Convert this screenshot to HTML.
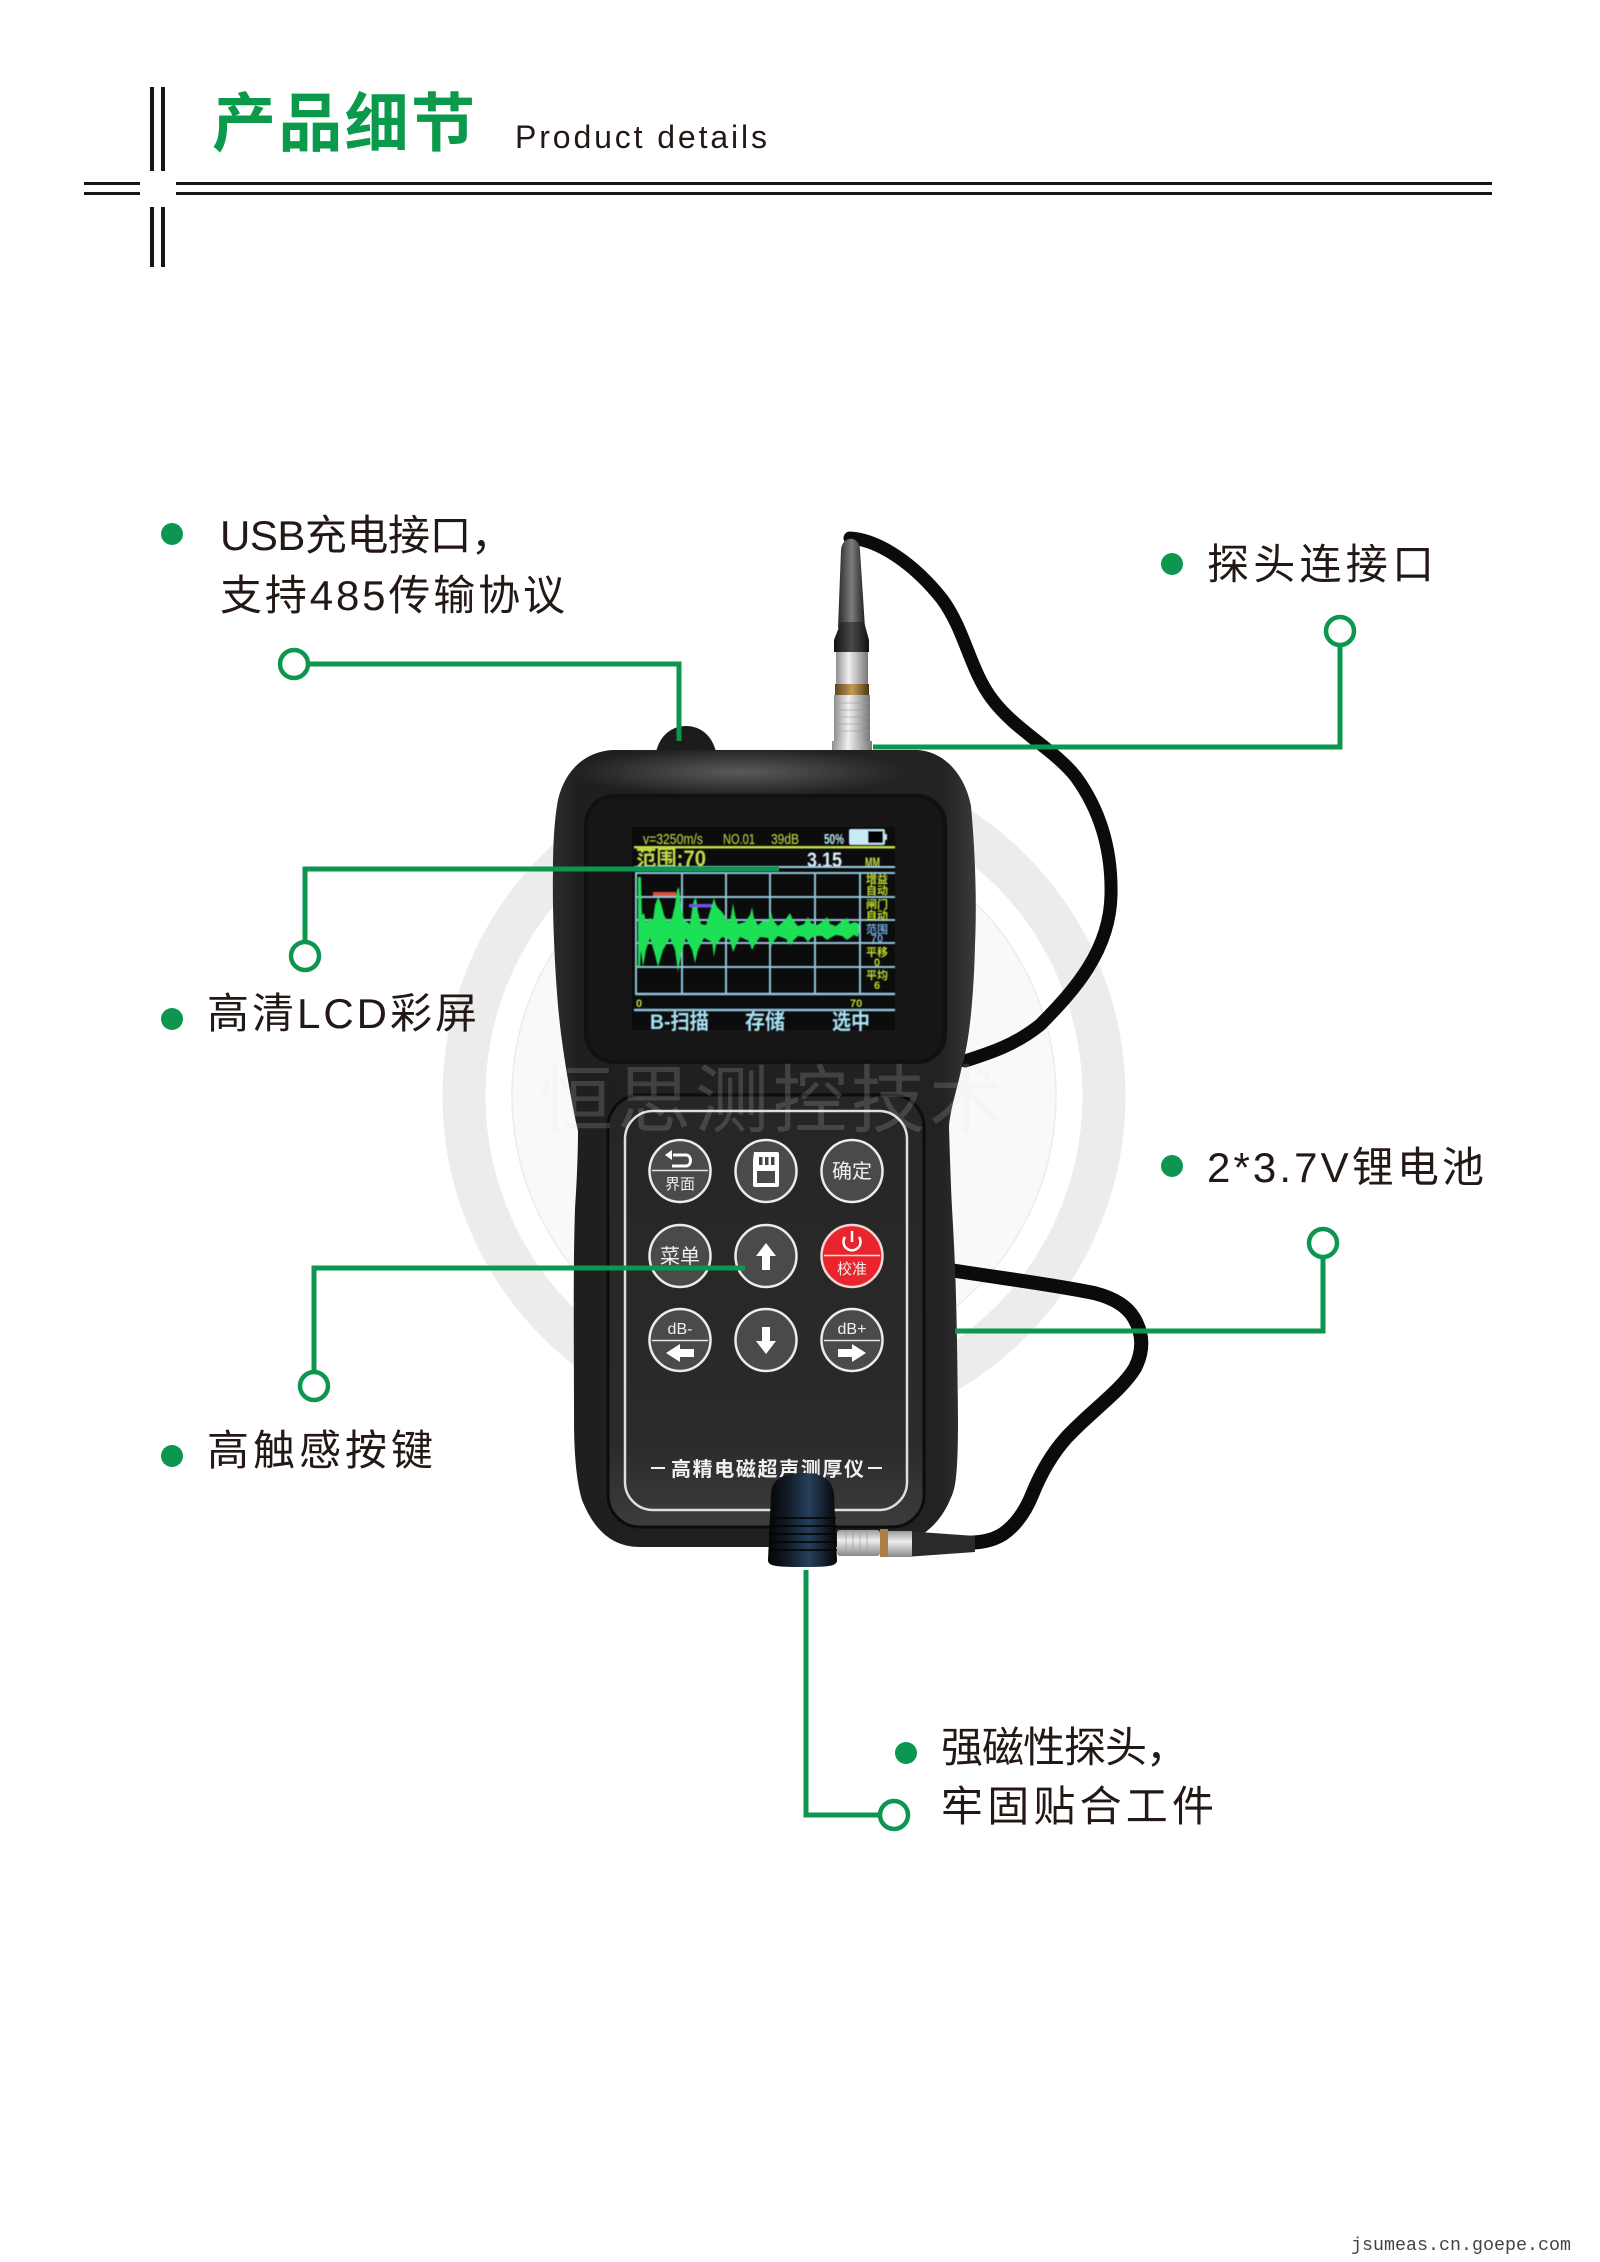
<!DOCTYPE html>
<html><head><meta charset="utf-8"><style>html,body{margin:0;padding:0;background:#fff}svg{display:block}
text{font-family:"Liberation Sans","Noto Sans CJK SC",sans-serif}</style></head><body>
<svg width="1600" height="2262" viewBox="0 0 1600 2262" xmlns="http://www.w3.org/2000/svg">
<defs>
<linearGradient id="boot" x1="0" x2="1" y1="0" y2="0"><stop offset="0" stop-color="#2a2a2a"/><stop offset=".5" stop-color="#7c7c7c"/><stop offset="1" stop-color="#222"/></linearGradient>
<linearGradient id="collar" x1="0" x2="1" y1="0" y2="0"><stop offset="0" stop-color="#111"/><stop offset=".5" stop-color="#4a4a4a"/><stop offset="1" stop-color="#111"/></linearGradient>
<linearGradient id="silver" x1="0" x2="1" y1="0" y2="0"><stop offset="0" stop-color="#8f8f8f"/><stop offset=".4" stop-color="#f0f0f0"/><stop offset="1" stop-color="#777"/></linearGradient>
<linearGradient id="silverV" x1="0" x2="0" y1="0" y2="1"><stop offset="0" stop-color="#999"/><stop offset=".4" stop-color="#eee"/><stop offset="1" stop-color="#888"/></linearGradient>
<linearGradient id="gold" x1="0" x2="1" y1="0" y2="0"><stop offset="0" stop-color="#5c4320"/><stop offset=".5" stop-color="#c49a58"/><stop offset="1" stop-color="#4a3518"/></linearGradient>
<linearGradient id="probe" x1="0" x2="1" y1="0" y2="0"><stop offset="0" stop-color="#050505"/><stop offset=".25" stop-color="#101820"/><stop offset=".6" stop-color="#26405e"/><stop offset=".85" stop-color="#121a24"/><stop offset="1" stop-color="#050505"/></linearGradient>
<linearGradient id="panel" x1="0" x2="0" y1="0" y2="1"><stop offset="0" stop-color="#262626"/><stop offset=".8" stop-color="#2a2a2a"/><stop offset="1" stop-color="#3c3c3c"/></linearGradient>
<linearGradient id="bodyG" x1="0" x2="1" y1="0" y2="0"><stop offset="0" stop-color="#2c2c2c"/><stop offset=".06" stop-color="#1f1f1f"/><stop offset=".92" stop-color="#222"/><stop offset="1" stop-color="#3a3a3a"/></linearGradient>
<radialGradient id="hl" cx=".5" cy=".5" r=".5"><stop offset="0" stop-color="#5a5a5a"/><stop offset="1" stop-color="#5a5a5a" stop-opacity="0"/></radialGradient>
<filter id="soft" x="-2%" y="-2%" width="104%" height="104%"><feGaussianBlur stdDeviation=".45"/></filter>
</defs>

<!-- header -->
<g fill="#1a1512">
<rect x="150" y="87" width="4" height="84"/><rect x="161" y="87" width="4" height="84"/>
<rect x="150" y="207" width="4" height="60"/><rect x="161" y="207" width="4" height="60"/>
<rect x="84" y="182" width="56" height="3"/><rect x="84" y="192" width="56" height="3"/>
<rect x="176" y="182" width="1316" height="3"/><rect x="176" y="192" width="1316" height="3"/>
</g>
<text x="212" y="146" font-size="64" font-weight="700" fill="#0b9a4c" textLength="263" lengthAdjust="spacing">产品细节</text>
<text x="515" y="148" font-size="32" fill="#231815" textLength="252" lengthAdjust="spacing">Product details</text>

<!-- watermark -->
<circle cx="784" cy="1096" r="320" fill="none" stroke="#ececec" stroke-width="43"/>
<circle cx="784" cy="1096" r="272" fill="#f9f9f9" stroke="#ececec" stroke-width="1.5"/>
<text x="539" y="1126" font-size="74" fill="#f4f4f4" letter-spacing="4">恒思测控技术</text>

<!-- upper cable -->
<path d="M850 538C880 540 915 565 942 599C965 630 970 670 992 699C1015 730 1055 750 1076 777C1100 810 1112 850 1111 895C1110 950 1075 990 1040 1025C1015 1045 990 1053 965 1061" fill="none" stroke="#0b0b0b" stroke-width="13" stroke-linecap="round"/>
<!-- lower cable -->
<path d="M950 1270C1000 1278 1050 1284 1094 1293C1114 1298 1127 1306 1134 1318C1144 1335 1143 1352 1135 1368C1122 1390 1090 1412 1066 1438C1050 1456 1040 1475 1032 1495C1025 1512 1016 1525 1003 1534C992 1541 980 1543 960 1543L925 1543" fill="none" stroke="#0b0b0b" stroke-width="14"/>

<!-- top connector -->
<path d="M841 550C842 535 860 535 860 550L865 628L838 628Z" fill="url(#boot)"/>
<path d="M841 622L864 622L869 640L869 652L834 652L834 640Z" fill="url(#collar)"/>
<rect x="836" y="652" width="32" height="32" fill="url(#silver)"/>
<rect x="835" y="684" width="34" height="11" fill="url(#gold)"/>
<rect x="834" y="695" width="36" height="46" fill="url(#silver)"/>
<g stroke="#9a9a9a" stroke-width="1" opacity=".6"><path d="M834 703H870M834 710H870M834 717H870M834 724H870M834 731H870"/></g>
<rect x="832" y="741" width="40" height="10" fill="url(#silver)"/>

<!-- bump -->
<path d="M656 752C660 735 672 726 686 726C700 726 712 735 716 752Z" fill="#1c1c1c"/>

<!-- body -->
<path d="M612 750L918 750C945 752 965 775 971 806C975 850 977 900 975 945C974 990 970 1040 962 1066C957 1090 950 1110 949 1127C950 1160 951 1190 952 1208C955 1260 957 1300 958 1420C958 1480 955 1490 950 1500C935 1535 905 1547 880 1547L640 1547C612 1547 594 1530 582 1500C576 1480 574 1450 574 1420C574 1330 573 1270 575 1208C577 1180 578 1150 578 1131C572 1105 566 1070 562 1041C556 1000 552 920 553 870C553 840 555 815 558 800C565 770 585 752 612 750Z" fill="url(#bodyG)"/>
<ellipse cx="740" cy="772" rx="170" ry="24" fill="url(#hl)"/>

<!-- bezel -->
<rect x="584" y="794" width="363" height="270" rx="30" fill="#111"/>
<rect x="588" y="798" width="354" height="262" rx="26" fill="#161616"/>

<!-- LCD -->
<rect x="632" y="827" width="263" height="203" fill="#0c0c0c"/>
<g filter="url(#soft)">
<g fill="#c4e04a" font-size="15">
<text x="643" y="844" textLength="60" lengthAdjust="spacingAndGlyphs">v=3250m/s</text>
<text x="723" y="844" textLength="32" lengthAdjust="spacingAndGlyphs">NO.01</text>
<text x="771" y="844" textLength="28" lengthAdjust="spacingAndGlyphs">39dB</text>
</g>
<text x="824" y="844" font-size="15" font-weight="700" fill="#bde8f4" textLength="20" lengthAdjust="spacingAndGlyphs">50%</text>
<rect x="850" y="830" width="34" height="14" rx="1" fill="#000" stroke="#bfe6f2" stroke-width="2"/><rect x="850" y="830" width="18" height="14" fill="#c8ecf6"/><rect x="884" y="834" width="3" height="6" fill="#bfe6f2"/>
<rect x="634" y="846" width="261" height="2.500" fill="#c4dc40"/>
<text x="636" y="866" font-size="22" font-weight="700" fill="#c4dc48" textLength="70" lengthAdjust="spacingAndGlyphs">范围:70</text>
<text x="807" y="867" font-size="21" font-weight="700" fill="#d6f2fa" textLength="35" lengthAdjust="spacingAndGlyphs">3.15</text>
<text x="865" y="867" font-size="14" font-weight="700" fill="#bfe04a" textLength="15" lengthAdjust="spacingAndGlyphs">MM</text>
<rect x="634" y="866" width="261" height="2" fill="#9fcfe4"/>
<g fill="none" stroke="#8fc4dc" stroke-width="2">
<rect x="636" y="873" width="224" height="121"/>
<path d="M682 873V994M726 873V994M770 873V994M815 873V994"/>
<path d="M636 897H895M636 920H895M636 943H895M636 967H895M636 873H895"/>
<path d="M636 994H895M634 1010H895" stroke-width="2.500"/>
</g>
<polygon fill="#1fe054" points="638,877 641,877 642,915 644,913 646,922 650,918 653,920 655,905 658,897 661,903 664,915 668,922 672,918 675,905 677,890 679,887 681,905 684,920 690,924 692,910 694,900 696,898 698,912 701,924 706,925 709,915 712,905 714,898 716,905 718,908 722,912 726,918 730,922 732,910 733,903 735,915 738,924 745,922 750,915 752,907 754,918 758,925 764,920 768,921 771,912 773,920 778,926 785,920 790,913 793,920 798,926 804,924 808,917 811,923 817,925 822,922 827,917 830,924 836,926 842,921 847,918 850,924 854,922 858,923 859,925 859,932 858,937 854,935 850,938 847,940 842,936 836,935 830,938 827,940 822,936 816,936 811,938 808,942 804,937 798,936 793,941 790,945 786,939 778,936 773,942 771,947 768,938 760,937 755,944 752,950 749,941 740,937 736,945 733,952 730,940 722,937 716,945 714,957 712,942 704,938 698,950 695,963 692,950 686,938 681,955 678,972 675,950 670,938 663,950 658,967 655,955 650,938 646,950 643,967 641,950 640,967 638,967"/>
<rect x="653" y="892" width="23" height="4" fill="#d8503a"/>
<rect x="689" y="904" width="23" height="3.500" fill="#6a55e8"/>
<g font-size="11" font-weight="700" fill="#c0dc30" text-anchor="middle">
<text x="877" y="883">增益</text><text x="877" y="894">自动</text>
<text x="877" y="908">闸门</text><text x="877" y="919">自动</text>
<text x="877" y="933" fill="#6ea6d8">范围</text><text x="877" y="942" fill="#6ea6d8">70</text>
<text x="877" y="956">平移</text><text x="877" y="966">0</text>
<text x="877" y="979">平均</text><text x="877" y="989">6</text>
</g>
<text x="636" y="1007" font-size="11" font-weight="700" fill="#c0dc30">0</text>
<text x="850" y="1007" font-size="11" font-weight="700" fill="#c0dc30">70</text>
<g font-size="21" font-weight="700" fill="#a6e2f4">
<text x="650" y="1029" textLength="59" lengthAdjust="spacingAndGlyphs">B-扫描</text>
<text x="745" y="1029" textLength="40" lengthAdjust="spacingAndGlyphs">存储</text>
<text x="832" y="1029" textLength="38" lengthAdjust="spacingAndGlyphs">选中</text>
</g>
</g>

<!-- keypad panel -->
<rect x="608" y="1095" width="316" height="432" rx="32" fill="url(#panel)" stroke="#0c0c0c" stroke-width="3"/>
<rect x="625" y="1111" width="282" height="399" rx="28" fill="none" stroke="#dedede" stroke-width="2.500"/>
<text x="539" y="1126" font-size="74" fill="#ffffff" fill-opacity=".15" letter-spacing="4">恒思测控技术</text>

<!-- buttons -->
<g fill="#4a4a4a" stroke="#ececec" stroke-width="2.500">
<ellipse cx="680" cy="1171" rx="30.500" ry="31"/><ellipse cx="766" cy="1171" rx="30.500" ry="31"/><ellipse cx="852" cy="1171" rx="30.500" ry="31"/>
<ellipse cx="680" cy="1256" rx="30.500" ry="31"/><ellipse cx="766" cy="1256" rx="30.500" ry="31"/><ellipse cx="852" cy="1256" rx="30.500" ry="31" fill="#e8242c" stroke="#f4d4d4"/>
<ellipse cx="680" cy="1340" rx="30.500" ry="31"/><ellipse cx="766" cy="1340" rx="30.500" ry="31"/><ellipse cx="852" cy="1340" rx="30.500" ry="31"/>
</g>
<g stroke="#e4e4e4" stroke-width="1.500"><path d="M652 1170.500H708M824 1255.500H880M652 1340.500H708M824 1340.500H880"/></g>
<!-- back icon -->
<path d="M673 1155H686C692 1155 692 1166 686 1166H672" fill="none" stroke="#fff" stroke-width="3"/><path d="M672 1150V1160L665 1155Z" fill="#fff"/>
<g fill="#f0f0f0" text-anchor="middle">
<text x="680" y="1189" font-size="15">界面</text>
<text x="852" y="1178" font-size="20">确定</text>
<text x="680" y="1263" font-size="20">菜单</text>
<text x="852" y="1274" font-size="15">校准</text>
<text x="680" y="1334" font-size="16">dB-</text>
<text x="852" y="1334" font-size="16">dB+</text>
</g>
<!-- SD icon -->
<path d="M754 1152H777Q779 1152 779 1154V1185Q779 1187 777 1187H755Q753 1187 753 1185V1160Z" fill="#fff"/>
<rect x="759" y="1157" width="3.500" height="8" fill="#444"/><rect x="765" y="1157" width="3.500" height="8" fill="#444"/><rect x="771" y="1157" width="3.500" height="8" fill="#444"/>
<rect x="757" y="1171" width="18" height="12" fill="#4a4a4a"/>
<!-- arrows -->
<path d="M766 1243L776 1256H770V1270H762V1256H756Z" fill="#fff"/>
<path d="M766 1354L776 1341H770V1327H762V1341H756Z" fill="#fff"/>
<path d="M666 1353L680 1344V1349H694V1357H680V1362Z" fill="#fff"/>
<path d="M866 1353L852 1344V1349H838V1357H852V1362Z" fill="#fff"/>
<!-- power -->
<path d="M845 1237A8.500 8.500 0 1 0 859 1237" fill="none" stroke="#fff" stroke-width="2.500"/><path d="M852 1231V1242" stroke="#fff" stroke-width="2.500"/>

<text x="671" y="1476" font-size="20" font-weight="700" fill="#f0f0f0" textLength="193" lengthAdjust="spacing">高精电磁超声测厚仪</text>
<rect x="651" y="1467" width="14" height="2" fill="#f0f0f0"/><rect x="868" y="1467" width="14" height="2" fill="#f0f0f0"/>

<!-- probe connector -->
<path d="M905 1531L975 1536L975 1552L905 1557Z" fill="#2a2a2a"/>
<rect x="837" y="1530" width="43" height="26" rx="3" fill="url(#silverV)"/>
<g stroke="#999" stroke-width="1" opacity=".6"><path d="M846 1530V1556M853 1530V1556M860 1530V1556M867 1530V1556"/></g>
<rect x="880" y="1529" width="8" height="28" fill="#a98045"/>
<rect x="888" y="1531" width="24" height="26" fill="url(#silverV)"/>
<!-- magnet probe -->
<path d="M771 1495C771 1478 785 1473 803 1473C820 1473 833 1478 834 1495L837 1560C837 1566 830 1567 803 1567C775 1567 768 1566 768 1560Z" fill="url(#probe)"/>
<g stroke="#050505" stroke-width="2" opacity=".8"><path d="M770 1518H836M769 1526H837M769 1534H837M769 1542H837M769 1550H837"/></g>

<!-- connectors -->
<g fill="none" stroke="#0c9650" stroke-width="5">
<path d="M294 664H679V741"/>
<path d="M1340 631V747H873"/>
<path d="M305 956V869H779"/>
<path d="M314 1386V1268H745"/>
<path d="M1323 1243V1331H955"/>
<path d="M806 1570V1815H894"/>
</g>
<g fill="#fff" stroke="#0c9650" stroke-width="4.500">
<circle cx="294" cy="664" r="14"/><circle cx="1340" cy="631" r="14"/><circle cx="305" cy="956" r="14"/><circle cx="314" cy="1386" r="14"/><circle cx="1323" cy="1243" r="14"/><circle cx="894" cy="1815" r="14"/>
</g>
<g fill="#0c9650">
<circle cx="172" cy="534" r="11"/><circle cx="172" cy="1019" r="11"/><circle cx="172" cy="1456" r="11"/><circle cx="1172" cy="564" r="11"/><circle cx="1172" cy="1166" r="11"/><circle cx="906" cy="1753" r="11"/>
</g>

<!-- labels -->
<g fill="#231815" font-size="42">
<text x="220" y="550" textLength="293" lengthAdjust="spacing">USB充电接口，</text>
<text x="220" y="610" textLength="345" lengthAdjust="spacing">支持485传输协议</text>
<text x="207" y="1028" textLength="270" lengthAdjust="spacing">高清LCD彩屏</text>
<text x="207" y="1465" textLength="226" lengthAdjust="spacing">高触感按键</text>
<text x="1207" y="579" textLength="227" lengthAdjust="spacing">探头连接口</text>
<text x="1207" y="1182" textLength="277" lengthAdjust="spacing">2*3.7V锂电池</text>
<text x="941" y="1762" textLength="247" lengthAdjust="spacing">强磁性探头，</text>
<text x="941" y="1821" textLength="273" lengthAdjust="spacing">牢固贴合工件</text>
</g>
<text x="1351" y="2250" font-size="18.300" fill="#444" style="font-family:'Liberation Mono',monospace" textLength="220">jsumeas.cn.goepe.com</text>
</svg>
</body></html>
